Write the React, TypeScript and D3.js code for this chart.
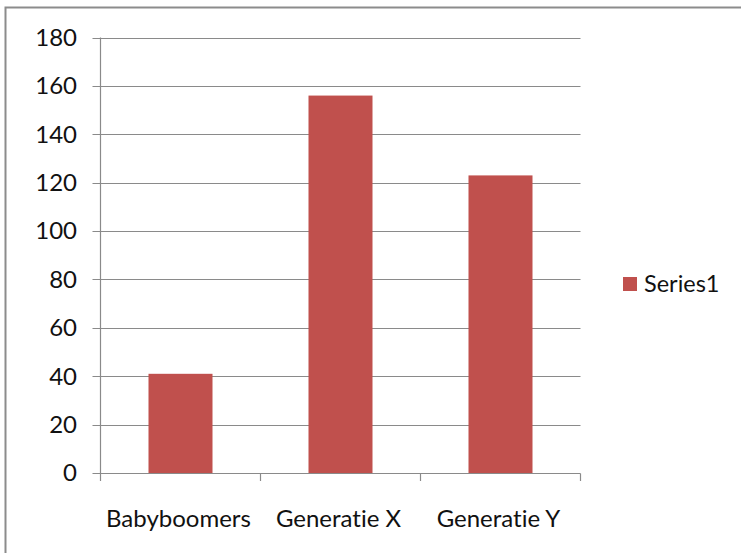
import * as d3 from "d3";
import { useEffect, useRef } from "react";

const categories = ["Babyboomers", "Generatie X", "Generatie Y"];
const series1 = [41, 156, 123];
const yTicks = [0, 20, 40, 60, 80, 100, 120, 140, 160, 180];
const seriesName = "Series1";

function App() {
  const svgRef = useRef<SVGSVGElement>(null);
  const width = 741;
  const height = 553;

  useEffect(() => {
    const svg = d3.select(svgRef.current);
    svg.selectAll("*").remove();

    const font = "Lato, 'Open Sans', sans-serif";
    const fontSize = "24px";

    // outer chart border (only left/top visible in the frame)
    svg
      .append("rect")
      .attr("x", 5.5)
      .attr("y", 7.5)
      .attr("width", 760)
      .attr("height", 560)
      .attr("fill", "white")
      .attr("stroke", "#8c8c8c")
      .attr("stroke-width", 2);

    const xScale = d3
      .scaleBand()
      .domain(categories)
      .range([100.5, 580.5])
      .paddingInner(0)
      .paddingOuter(0);

    const yScale = d3.scaleLinear().domain([0, 180]).range([473, 37.5]);

    const barW = xScale.bandwidth() / 2.5;

    // gridlines
    svg
      .append("g")
      .selectAll("line")
      .data(yTicks)
      .join("line")
      .attr("x1", 92.5)
      .attr("x2", 580.5)
      .attr("y1", (d) => Math.round(yScale(d)) + 0.5)
      .attr("y2", (d) => Math.round(yScale(d)) + 0.5)
      .attr("stroke", "#8a8a8a")
      .attr("stroke-width", 1.2);

    // y axis line
    svg
      .append("line")
      .attr("x1", 100.5)
      .attr("x2", 100.5)
      .attr("y1", yScale(180))
      .attr("y2", yScale(0))
      .attr("stroke", "#8a8a8a")
      .attr("stroke-width", 1.2);

    // x tick marks at category boundaries
    const bounds = categories.map((c) => xScale(c) as number).concat([580.5]);
    svg
      .append("g")
      .selectAll("line")
      .data(bounds)
      .join("line")
      .attr("x1", (d) => d)
      .attr("x2", (d) => d)
      .attr("y1", 473.5)
      .attr("y2", 481)
      .attr("stroke", "#8a8a8a")
      .attr("stroke-width", 1.2);

    // bars
    svg
      .append("g")
      .selectAll("rect")
      .data(series1)
      .join("rect")
      .attr("x", (v, i) => (xScale(categories[i]) as number) + xScale.bandwidth() / 2 - barW / 2)
      .attr("y", (v) => yScale(v))
      .attr("width", barW)
      .attr("height", (v) => yScale(0) - yScale(v))
      .attr("fill", "#c0504d");

    // y labels
    svg
      .append("g")
      .selectAll("text")
      .data(yTicks)
      .join("text")
      .attr("x", 77)
      .attr("y", (d) => yScale(d))
      .attr("dy", "0.35em")
      .attr("text-anchor", "end")
      .style("font-family", font)
      .style("font-size", fontSize)
      .attr("fill", "#111")
      .text((d) => d);

    // x labels
    svg
      .append("g")
      .selectAll("text")
      .data(categories)
      .join("text")
      .attr("x", (d) => (xScale(d) as number) + xScale.bandwidth() / 2 - 2)
      .attr("y", 527)
      .attr("text-anchor", "middle")
      .style("font-family", font)
      .style("font-size", fontSize)
      .style("font-variant-ligatures", "none")
      .attr("fill", "#111")
      .text((d) => d);

    // legend
    svg
      .append("rect")
      .attr("x", 623)
      .attr("y", 277)
      .attr("width", 14)
      .attr("height", 14)
      .attr("fill", "#c0504d");
    svg
      .append("text")
      .attr("x", 644)
      .attr("y", 292)
      .style("font-family", font)
      .style("font-size", "23.5px")
      .attr("fill", "#111")
      .text(seriesName);
  }, []);

  return (
    <svg
      ref={svgRef}
      width={width}
      height={height}
      style={{ position: "absolute", left: 0, top: 0 }}
    ></svg>
  );
}

export default App;
